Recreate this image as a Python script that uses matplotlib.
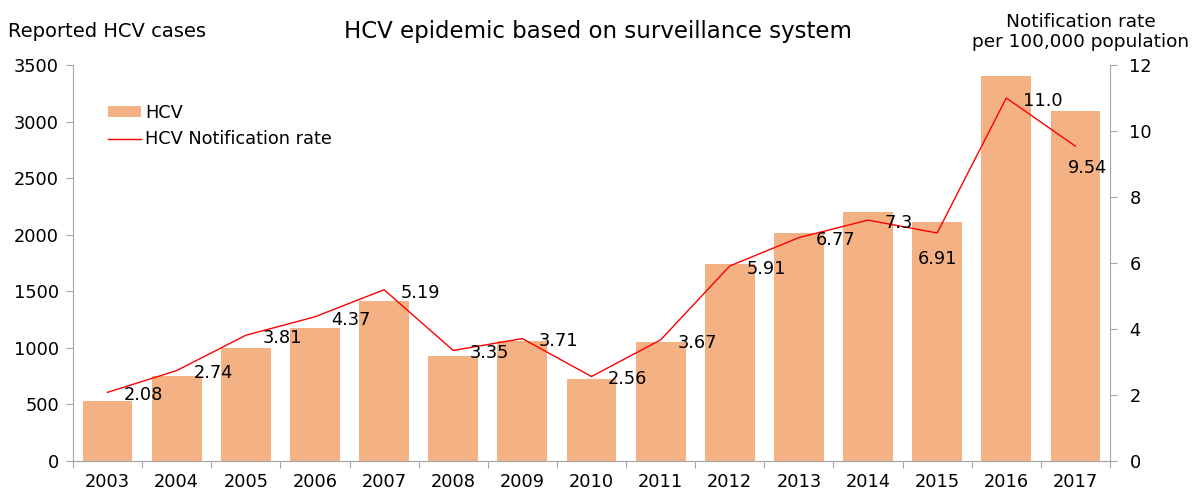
import numpy as np
import matplotlib
matplotlib.use('Agg')
import matplotlib.pyplot as plt

plt.rcParams['font.family'] = ['DejaVu Sans']

years = ['2003', '2004', '2005', '2006', '2007', '2008', '2009', '2010',
         '2011', '2012', '2013', '2014', '2015', '2016', '2017']
cases = [530, 750, 1000, 1175, 1412, 930, 1060, 725,
         1052, 1742, 2015, 2200, 2110, 3402, 3094]
rates = [2.08, 2.74, 3.81, 4.37, 5.19, 3.35, 3.71, 2.56,
         3.67, 5.91, 6.77, 7.3, 6.91, 11.0, 9.54]
rate_labels = ['2.08', '2.74', '3.81', '4.37', '5.19', '3.35', '3.71', '2.56',
               '3.67', '5.91', '6.77', '7.3', '6.91', '11.0', '9.54']

bar_color = '#F4B183'
grey = '#A6A6A6'
fs = 12.8

fig = plt.figure(figsize=(12, 4.91), dpi=100)
ax = fig.add_axes([0.0608, 0.0611, 0.8642, 0.8065])
ax2 = ax.twinx()

x = np.arange(len(years))
bars = ax.bar(x, cases, width=0.72, color=bar_color, label='HCV', zorder=2)
line, = ax2.plot(x, rates, color='red', lw=1, label='HCV Notification rate', zorder=3)

ax.set_xlim(-0.5, len(years) - 0.5)
ax.set_ylim(0, 3500)
ax.set_yticks(range(0, 3501, 500))
ax2.set_ylim(0, 12)
ax2.set_yticks(range(0, 13, 2))

# x ticks at category boundaries, labels at centres
ax.set_xticks(np.arange(-0.5, len(years), 1))
ax.set_xticklabels([])
ax.set_xticks(x, minor=True)
ax.set_xticklabels(years, minor=True)
ax.tick_params(axis='x', which='minor', length=0, labelsize=fs, pad=9)
ax.tick_params(axis='x', which='major', length=5, color=grey)
ax.tick_params(axis='y', labelsize=fs, length=5, color=grey, pad=5)
ax2.tick_params(axis='y', labelsize=fs, length=5, color=grey, pad=9)

for a in (ax, ax2):
    a.spines['top'].set_visible(False)
    for s in ('left', 'right', 'bottom'):
        a.spines[s].set_color(grey)
ax2.spines['left'].set_visible(False)
ax.spines['right'].set_visible(False)

# point labels
offsets = {12: (0, -19, 'center'), 14: (9, -16, 'center')}
for i, (r, t) in enumerate(zip(rates, rate_labels)):
    dx, dy, ha = offsets.get(i, (12, -2, 'left'))
    ax2.annotate(t, (i, r), xytext=(dx, dy), textcoords='offset points',
                 ha=ha, va='center', fontsize=fs, zorder=4)

ax.legend([bars, line], ['HCV', 'HCV Notification rate'], loc='upper left',
          bbox_to_anchor=(0.018, 0.943), frameon=False, fontsize=fs,
          handlelength=1.85, handleheight=0.6, handletextpad=0.25,
          labelspacing=0.5)

fig.text(0.007, 0.935, 'Reported HCV cases', fontsize=14, va='center')
fig.text(0.498, 0.935, 'HCV epidemic based on surveillance system',
         fontsize=16.5, ha='center', va='center')
fig.text(0.9008, 0.935, 'Notification rate\nper 100,000 population',
         fontsize=13.3, ha='center', va='center', linespacing=1.15)

fig.savefig('out.png', dpi=100)
